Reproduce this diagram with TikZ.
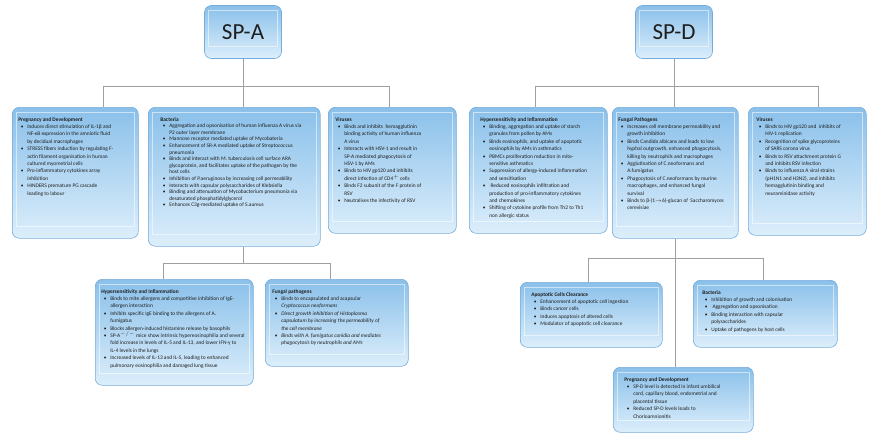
\documentclass[tikz,border=0pt]{standalone}
\usepackage{fontspec}
\setmainfont{Carlito}
\usepackage{tikz}

\definecolor{cardtop}{RGB}{138,192,234}
\definecolor{cardbot}{RGB}{220,238,251}
\definecolor{cardline}{RGB}{118,172,218}
\definecolor{wirecol}{RGB}{160,160,160}
\definecolor{ink}{RGB}{30,30,30}

\newcommand{\cardtitle}[1]{{\bfseries #1}\par}
\newcommand{\itm}{\par\noindent\hangindent=9pt\hangafter=1\hbox to 9pt{\hskip2.5pt\textbullet\hfil}}
\newcommand{\cardbody}[4][7.4]{\parbox[t][#3][t]{#2}{\fontsize{5.4}{#1}\selectfont\raggedright #4}}

\begin{document}
\begin{tikzpicture}[x=1pt, y=1pt, font=\color{ink},
  card/.style={draw=cardline, line width=0.6pt, rounded corners=7pt,
    top color=cardtop, bottom color=cardbot, anchor=north west,
    inner xsep=6pt, inner ysep=10pt,
    path picture={\draw[white, opacity=.55, sharp corners]
      ([shift={(4pt,-5pt)}]path picture bounding box.north west) rectangle
      ([shift={(-4pt,12pt)}]path picture bounding box.south east);}},
  head/.style={card, anchor=center, font=\fontsize{23}{26}\selectfont\color{ink},
    minimum width=77pt, minimum height=53pt},
  link/.style={draw=wirecol, line width=0.6pt}]

\useasboundingbox (0,0) rectangle (872,-434);

% heads
\node[head] (spa) at (243,-32) {SP-A};
\node[head] (spd) at (674,-32) {SP-D};

% SP-A, first row
\node[card] (pregA) at (12,-107) {\cardbody{114pt}{111pt}{%
\cardtitle{Pregnancy and Development}
\itm Induces direct stimulation of IL-1β and\newline NF-κB expression in the amniotic fluid\newline by decidual macrophages
\itm STRESS fibers induction by regulating F-\newline actin filament organisation in human\newline cultured myometrial cells
\itm Pro-inflammatory cytokines array\newline inhibition
\itm HINDERS premature PG cascade\newline leading to labour}};

\node[card, inner xsep=12pt] (bacA) at (148,-107) {\cardbody[6.6]{148pt}{119pt}{%
\cardtitle{Bacteria}
\itm Aggregation and opsonisation of human influenza A virus via\newline P2 outer layer membrane
\itm Mannose receptor mediated uptake of Mycobateria
\itm Enhancement of SR-A mediated uptake of Streptococcus\newline pneumonia
\itm Binds and interact with M. tuberculosis cell surface ARA\newline glycoprotein, and facilitates uptake of the pathogen by the\newline host cells
\itm Inhibition of P.aeruginosa by increasing cell permeability
\itm Interacts with capsular polysaccharides of Klebsiella
\itm Binding and attenuation of Mycobacterium pneumonia via\newline desaturated phosphatidylglycerol
\itm Enhances C3g-mediated uptake of S.aureus}};

\node[card, inner xsep=7pt] (virA) at (328,-107) {\cardbody{114pt}{106pt}{%
\cardtitle{Viruses}
\itm Binds and inhibits\ \ hemagglutinin\newline binding activity of human influenza\newline A virus
\itm Interacts with HSV-1 and result in\newline SP-A mediated phagocytosis of\newline HSV-1 by AMs
\itm Binds to HIV gp120 and inhibits\newline direct infection of CD4$^{+}$ cells
\itm Binds F2 subunit of the F protein of\newline RSV
\itm Neutralises the infectivity of RSV}};

% SP-A, second row
\node[card] (hypA) at (95,-279) {\cardbody{146pt}{86pt}{%
\cardtitle{Hypersensitivity and Inflammation}
\itm Binds to mite allergens and competitive inhibition of IgE-\newline allergen interaction
\itm Inhibits specific IgE binding to the allergens of A.\newline fumigatus
\itm Blocks allergen-induced histamine release by basophils
\itm SP-A$^{-/-}$ mice show intrinsic hypereosinophilia and several\newline fold increase in levels of IL-5 and IL-13, and lower IFN-γ to\newline IL-4 levels in the lungs
\itm Increased levels of IL-13 and IL-5, leading to enhanced\newline pulmonary eosinophilia and damaged lung tissue}};

\node[card, inner xsep=7pt] (funA) at (265,-279) {\cardbody{129pt}{67pt}{%
\cardtitle{Fungal pathogens}
\itm Binds to encapsulated and acapsular\newline\textit{Cryptococcus neoformans}
\itm \textit{Direct growth inhibition of Histoplasma\newline capsulatum by increasing the permeability of\newline the cell membrane}
\itm \textit{Binds with A. fumigatus conidia and mediates\newline phagocytosis by neutrophils and AMs}}};

% SP-D, first row
\node[card, inner xsep=11pt] (hypD) at (469,-107) {\cardbody{116pt}{106pt}{%
\cardtitle{Hypersensitivity and Inflammation}
\itm Binding, aggregation and uptake of starch\newline granules from pollen by AMs
\itm Binds eosinophils, and uptake of apoptotic\newline eosinophils by AMs in asthmatics
\itm PBMCs proliferation reduction in mite-\newline sensitive asthmatics
\itm Suppression of allergy-induced inflammation\newline and sensitisation
\itm\ Reduced eosinophils infiltration and\newline production of pro-inflammatory cytokines\newline and chemokines
\itm Shifting of cytokine profile from Th2 to Th1\newline non allergic status}};

\node[card] (funD) at (612,-107) {\cardbody{114pt}{111pt}{%
\cardtitle{Fungal Pathogens}
\itm Increases cell membrane permeability and\newline growth inhibition
\itm Binds Candida albicans and leads to low\newline hyphal outgrowth, enhanced phagocytosis,\newline killing by neutrophils and macrophages
\itm Agglutination of C.neoformans and\newline A.fumigatus
\itm Phagocytosis of C.neoformans by murine\newline macrophages, and enhanced fungal\newline survival
\itm Binds to β-(1$\rightarrow$6)-glucan of\ \ Saccharomyces\newline cerevisiae}};

\node[card, inner xsep=8pt] (virD) at (748,-107) {\cardbody{102pt}{108pt}{%
\cardtitle{Viruses}
\itm Binds to HIV gp120 and\ \ inhibits of\newline HIV-1 replication
\itm Recognition of spike glycoproteins\newline of SARS corona virus
\itm Binds to RSV attachment protein G\newline and inhibits RSV infection
\itm Binds to influenza A viral strains\newline (pH1N1 and H3N2), and inhibits\newline hemagglutinin binding and\newline neuraminidase activity}};

% SP-D, second row
\node[card, inner xsep=11pt] (apoD) at (520,-282) {\cardbody{120pt}{45pt}{%
\cardtitle{Apoptotic Cells Clearance}
\itm Enhancement of apoptotic cell ingestion
\itm Binds cancer cells
\itm Induces apoptosis of altered cells
\itm Modulator of apoptotic cell clearance}};

\node[card, inner xsep=9pt] (bacD) at (693,-280) {\cardbody{126pt}{47pt}{%
\cardtitle{Bacteria}
\itm Inhibition of growth and colonisation
\itm\ Aggregation and opsonisation
\itm Binding interaction with capsular\newline polysaccharides
\itm Uptake of pathogens by host cells}};

\node[card, inner xsep=11pt] (pregD) at (613,-367) {\cardbody{118pt}{45pt}{%
\cardtitle{Pregnancy and Development}
\itm SP-D level is detected in infant umbilical\newline cord, capillary blood, endometrial and\newline placental tissue
\itm Reduced SP-D levels leads to\newline Chorioamnionitis}};

% connectors
\coordinate (lbusL) at (103,-86);
\coordinate (lbusR) at (389,-86);
\coordinate (lbus2L) at (163,-263);
\coordinate (lbus2R) at (330,-263);
\coordinate (rbusL) at (535,-86);
\coordinate (rbusR) at (818,-86);
\coordinate (rbus2L) at (588,-258);
\coordinate (rbus2R) at (763,-258);

\draw[link] (spa.south) -- (spa.south |- bacA.north);
\draw[link] (lbusL) -- (lbusR);
\draw[link] (lbusL) -- (lbusL |- pregA.north);
\draw[link] (lbusR) -- (lbusR |- virA.north);
\draw[link] (spa.south |- bacA.south) -- (spa.south |- lbus2L);
\draw[link] (lbus2L) -- (lbus2R);
\draw[link] (lbus2L) -- (lbus2L |- hypA.north);
\draw[link] (lbus2R) -- (lbus2R |- funA.north);

\draw[link] (spd.south) -- (spd.south |- funD.north);
\draw[link] (rbusL) -- (rbusR);
\draw[link] (rbusL) -- (rbusL |- hypD.north);
\draw[link] (rbusR) -- (rbusR |- virD.north);
\draw[link] (funD.south) -- (funD.south |- pregD.north);
\draw[link] (rbus2L) -- (rbus2R);
\draw[link] (rbus2L) -- (rbus2L |- apoD.north);
\draw[link] (rbus2R) -- (rbus2R |- bacD.north);

\end{tikzpicture}
\end{document}
